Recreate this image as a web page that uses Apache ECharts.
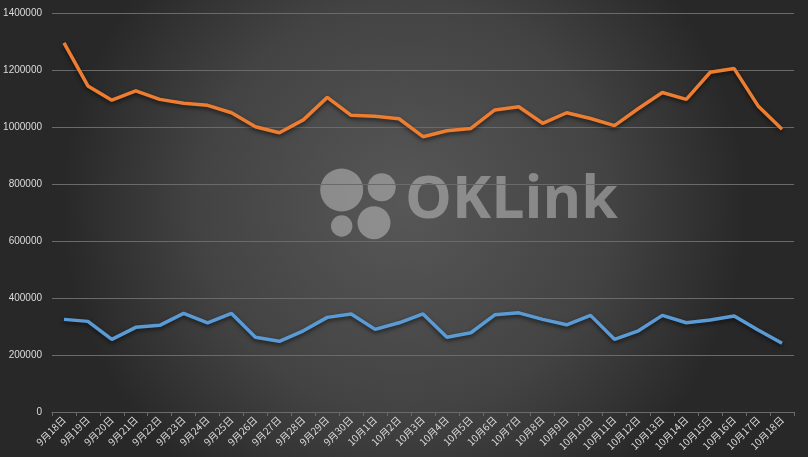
<!DOCTYPE html>
<html><head><meta charset="utf-8">
<script src="https://cdn.jsdelivr.net/npm/echarts@6/dist/echarts.min.js"></script>
<style>html,body{margin:0;padding:0;background:#333}#c{width:808px;height:457px}</style>
</head><body><div id="c"></div>
<script>
const categories = ['9月18日','9月19日','9月20日','9月21日','9月22日','9月23日','9月24日','9月25日','9月26日','9月27日','9月28日','9月29日','9月30日','10月1日','10月2日','10月3日','10月4日','10月5日','10月6日','10月7日','10月8日','10月9日','10月10日','10月11日','10月12日','10月13日','10月14日','10月15日','10月16日','10月17日','10月18日'];
const orangeSeries = [1295000,1144000,1094000,1127000,1097000,1083000,1076000,1050000,1001000,980000,1025000,1104000,1041000,1038000,1029000,966000,987000,995000,1060000,1071000,1013000,1050000,1030000,1005000,1065000,1121000,1097000,1192000,1205000,1074000,992000];
const blueSeries = [325000,318000,255000,297000,304000,346000,313000,346000,262000,248000,285000,332000,344000,290000,313000,344000,262000,278000,341000,348000,325000,306000,339000,255000,285000,339000,313000,323000,337000,288000,241000];
const yTicks = {min:0, max:1400000, interval:200000};

const chart = echarts.init(document.getElementById('c'));
chart.setOption({
  backgroundColor: {type:'radial', x:0.5, y:0.45, r:0.75, colorStops:[{offset:0,color:'#575757'},{offset:0.6,color:'#434343'},{offset:1,color:'#282828'}]},
  animation:false,
  grid:{left:52, right:14, top:13, bottom:45},
  graphic:[
    {type:'circle', shape:{cx:341.7, cy:190, r:21.5}, style:{fill:'rgba(190,190,190,0.55)'}, z:0},
    {type:'circle', shape:{cx:381.7, cy:187.3, r:14}, style:{fill:'rgba(190,190,190,0.55)'}, z:0},
    {type:'circle', shape:{cx:341.7, cy:226, r:10.7}, style:{fill:'rgba(190,190,190,0.55)'}, z:0},
    {type:'circle', shape:{cx:374, cy:222.7, r:16.5}, style:{fill:'rgba(190,190,190,0.55)'}, z:0},
    {type:'text', left:405, top:172, style:{text:'OKLink', fill:'rgba(190,190,190,0.55)', font:'bold 59px "Open Sans", "DejaVu Sans", sans-serif'}, z:0}
  ],
  xAxis:{
    type:'category', data:categories, boundaryGap:true,
    axisLine:{show:true, lineStyle:{color:'#6a6a6a'}},
    axisTick:{show:true, length:4, lineStyle:{color:'#6a6a6a'}},
    axisLabel:{interval:0, rotate:45, color:'#dcdcdc', fontSize:10, fontFamily:'"Noto Sans CJK SC", sans-serif', margin:6}
  },
  yAxis:{
    type:'value', min:yTicks.min, max:yTicks.max, interval:yTicks.interval,
    axisLine:{show:false}, axisTick:{show:false},
    splitLine:{lineStyle:{color:'#6a6a6a', width:1}},
    axisLabel:{color:'#dcdcdc', fontSize:10, fontFamily:'"Liberation Sans", sans-serif', margin:10, formatter:v=>String(v)}
  },
  series:[
    {type:'line', data:orangeSeries, symbol:'none', z:3,
     lineStyle:{color:'#ED7D31', width:3.5, shadowColor:'rgba(0,0,0,0.6)', shadowBlur:4, shadowOffsetY:2}},
    {type:'line', data:blueSeries, symbol:'none', z:3,
     lineStyle:{color:'#5B9BD5', width:3.5, shadowColor:'rgba(0,0,0,0.6)', shadowBlur:4, shadowOffsetY:2}}
  ]
});
</script></body></html>
